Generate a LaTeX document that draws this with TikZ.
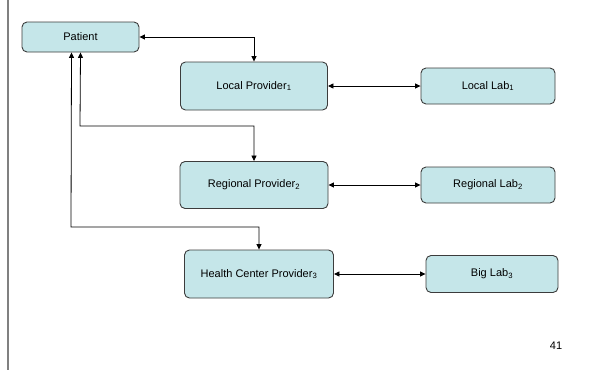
\documentclass[tikz,border=0pt]{standalone}
\usepackage{fontspec}
\setmainfont{Liberation Sans}
\usetikzlibrary{arrows.meta,calc}
\definecolor{boxfill}{RGB}{197,230,233}
\definecolor{boxline}{RGB}{60,60,60}
\definecolor{railgray}{RGB}{128,128,128}
\begin{document}
\begin{tikzpicture}[x=1pt,y=-1pt,
  box/.style={draw=boxline,line width=0.9pt,fill=boxfill,rounded corners=5pt,
    inner sep=0pt,font=\fontsize{11}{13}\selectfont},
  link/.style={line width=0.8pt,{Triangle[length=5.5pt,width=5pt]}-{Triangle[length=5.5pt,width=5pt]}}]
  \useasboundingbox (0,0) rectangle (591,370);
  % left margin rule
  \draw[railgray,line width=2pt] (8,0) -- (8,370);
  % boxes
  \node[box,minimum width=117pt,minimum height=30pt] (patient) at (80.5,37) {Patient};
  \node[box,minimum width=147pt,minimum height=48pt] (lp) at (254,86) {Local Provider\textsubscript{1}};
  \node[box,minimum width=134pt,minimum height=36pt] (ll) at (488,86) {Local Lab\textsubscript{1}};
  \node[box,minimum width=148pt,minimum height=47pt] (rp) at (254,185) {Regional Provider\textsubscript{2}};
  \node[box,minimum width=134pt,minimum height=36pt] (rl) at (488,185) {Regional Lab\textsubscript{2}};
  \node[box,minimum width=149pt,minimum height=48pt] (hp) at (259,274) {Health Center Provider\textsubscript{3}};
  \node[box,minimum width=132pt,minimum height=37pt] (bl) at (492,274) {Big Lab\textsubscript{3}};
  % bends of the elbow connectors
  \coordinate (p2) at ($(patient.south)+(-9,0)$);
  \coordinate (k1) at (80,126);
  \coordinate (k2) at (71,227);
  % connectors
  \draw[link] (patient.east) -| (lp.north);
  \draw[link] (lp.east) -- (ll.west);
  \draw[link] (patient.south) -- (k1) -| (rp.north);
  \draw[link] (rp.east) -- (rl.west);
  \draw[link] (p2) -- (k2) -| (hp.north);
  \draw[link] (hp.east) -- (bl.west);
  % page number
  \node[font=\fontsize{11}{13}\selectfont] (num) at (556,346) {41};
\end{tikzpicture}
\end{document}
